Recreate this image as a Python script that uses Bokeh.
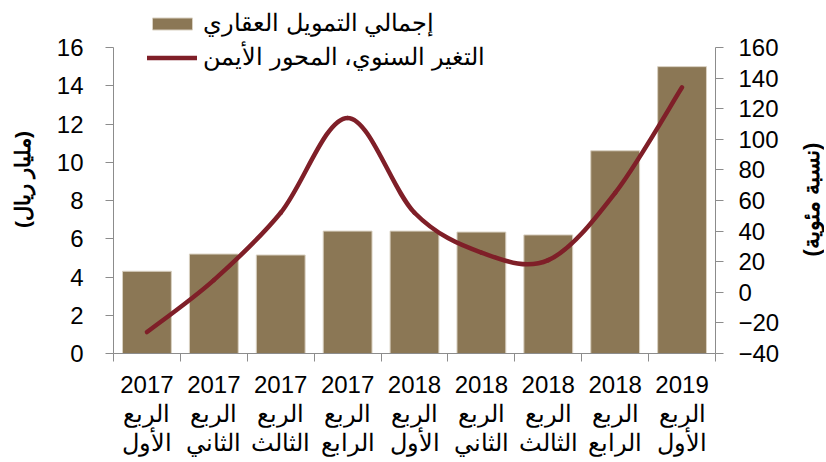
from bokeh.plotting import figure
from bokeh.models import (Range1d, LinearAxis, FixedTicker, Legend, LegendItem,
                          ColumnDataSource, Label)
from bokeh.embed import file_html
from bokeh.resources import INLINE
import math

# ---- data ----
years = ["2017", "2017", "2017", "2017", "2018", "2018", "2018", "2018", "2019"]
quarters = ["الربع\nالأول", "الربع\nالثاني", "الربع\nالثالث", "الربع\nالرابع",
            "الربع\nالأول", "الربع\nالثاني", "الربع\nالثالث", "الربع\nالرابع",
            "الربع\nالأول"]
financing = [4.3, 5.2, 5.15, 6.4, 6.4, 6.35, 6.2, 10.6, 15.0]   # billion riyal (left axis)
growth = [-26, 8, 52, 114, 52, 26, 21, 65, 134]                 # % (right axis)
left_ticks = [0, 2, 4, 6, 8, 10, 12, 14, 16]
right_ticks = [-40, -20, 0, 20, 40, 60, 80, 100, 120, 140, 160]
legend_bar = "إجمالي التمويل العقاري"
legend_line = "التغير السنوي، المحور الأيمن"
left_title = "(مليار ريال)"
right_title = "(نسبة مئوية)"

FONT = "Liberation Sans"
BAR = "#8B7755"
LINE = "#7F1F28"
AXIS = "#8C8C8C"
FS = "24px"

n = len(financing)
xs = list(range(n))

# frame spans extra headroom above the axes so the legend can sit there
AXIS_PX = 306      # pixel length of the drawn y axes
FRAME_PX = 348     # frame height including headroom
lo_l, hi_l = left_ticks[0], left_ticks[-1]
lo_r, hi_r = right_ticks[0], right_ticks[-1]
top_l = lo_l + (hi_l - lo_l) * FRAME_PX / AXIS_PX
top_r = lo_r + (hi_r - lo_r) * FRAME_PX / AXIS_PX

p = figure(frame_width=602, frame_height=FRAME_PX,
           min_border_left=113, min_border_right=109,
           min_border_top=5, min_border_bottom=107,
           x_range=Range1d(-0.5, n - 0.5), y_range=Range1d(lo_l, top_l),
           output_backend="svg", toolbar_location=None,
           background_fill_color="white", border_fill_color="white")
p.outline_line_color = None
p.grid.visible = False
p.extra_y_ranges = {"right": Range1d(lo_r, top_r)}

# bars
src = ColumnDataSource(dict(x=xs, top=financing))
bars = p.vbar(x="x", top="top", width=0.73, source=src,
              fill_color=BAR, line_color="#D9D1C2", line_width=1)

# smoothed line via bezier segments (control points from data, Catmull-Rom style)
x0, y0, x1, y1, cx0, cy0, cx1, cy1 = [], [], [], [], [], [], [], []
for i in range(n - 1):
    prv = max(i - 1, 0)
    nxt = min(i + 2, n - 1)
    x0.append(xs[i]); y0.append(growth[i])
    x1.append(xs[i + 1]); y1.append(growth[i + 1])
    cx0.append(xs[i] + (xs[i + 1] - xs[prv]) / 6)
    cy0.append(growth[i] + (growth[i + 1] - growth[prv]) / 6)
    cx1.append(xs[i + 1] - (xs[nxt] - xs[i]) / 6)
    cy1.append(growth[i + 1] - (growth[nxt] - growth[i]) / 6)
bsrc = ColumnDataSource(dict(x0=x0, y0=y0, x1=x1, y1=y1, cx0=cx0, cy0=cy0, cx1=cx1, cy1=cy1))
curve = p.bezier(x0="x0", y0="y0", x1="x1", y1="y1", cx0="cx0", cy0="cy0", cx1="cx1", cy1="cy1",
                 source=bsrc, line_color=LINE, line_width=4.5, line_cap="round",
                 y_range_name="right")

# axes
xa = p.xaxis[0]
xa.ticker = FixedTicker(ticks=xs, minor_ticks=[i - 0.5 for i in range(n + 1)])
xa.major_label_overrides = {i: years[i] + "\n" + quarters[i] for i in range(n)}
xa.major_tick_line_color = None
xa.minor_tick_in = 0
xa.minor_tick_out = 8
xa.minor_tick_line_color = AXIS
xa.axis_line_color = AXIS
xa.major_label_standoff = 9
xa.major_label_text_font = FONT
xa.major_label_text_font_size = FS
xa.major_label_text_color = "black"
xa.major_label_text_line_height = 1.08

ya = p.yaxis[0]
ya.ticker = FixedTicker(ticks=left_ticks)
ya.bounds = (lo_l, hi_l)
ya.minor_tick_line_color = None
ya.major_tick_in = 0
ya.major_tick_out = 8
ya.major_tick_line_color = AXIS
ya.axis_line_color = AXIS
ya.major_label_standoff = 22
ya.major_label_text_font = FONT
ya.major_label_text_font_size = FS
ya.major_label_text_color = "black"
ya.axis_label = left_title
ya.axis_label_standoff = 20
ya.axis_label_text_font = FONT
ya.axis_label_text_font_style = "bold"
ya.axis_label_text_font_size = "21px"
ya.axis_label_text_color = "black"

ra = LinearAxis(y_range_name="right", ticker=FixedTicker(ticks=right_ticks))
ra.bounds = (lo_r, hi_r)
ra.minor_tick_line_color = None
ra.major_tick_in = 0
ra.major_tick_out = 8
ra.major_tick_line_color = AXIS
ra.axis_line_color = AXIS
ra.major_label_standoff = 15
ra.major_label_text_font = FONT
ra.major_label_text_font_size = FS
ra.major_label_text_color = "black"
p.add_layout(ra, "right")

# right-hand axis title, reading bottom-to-top like the left one
p.add_layout(Label(x=811, y=199, x_units="canvas", y_units="canvas", text=right_title,
                   angle=math.pi / 2, text_align="center", text_baseline="middle",
                   text_font=FONT, text_font_style="bold", text_font_size="22px",
                   text_color="black"), "right")

# legend (inside the frame headroom)
legend = Legend(items=[LegendItem(label=legend_bar, renderers=[bars]),
                       LegendItem(label=legend_line, renderers=[curve])],
                location=(34, 281), orientation="vertical",
                glyph_width=50, glyph_height=15, label_height=30, spacing=4,
                label_standoff=6, padding=0, margin=0,
                border_line_color=None, background_fill_alpha=0,
                label_text_font=FONT, label_text_font_size=FS,
                label_text_color="black")
p.add_layout(legend, "center")

open("out.html", "w").write(file_html(p, INLINE))
